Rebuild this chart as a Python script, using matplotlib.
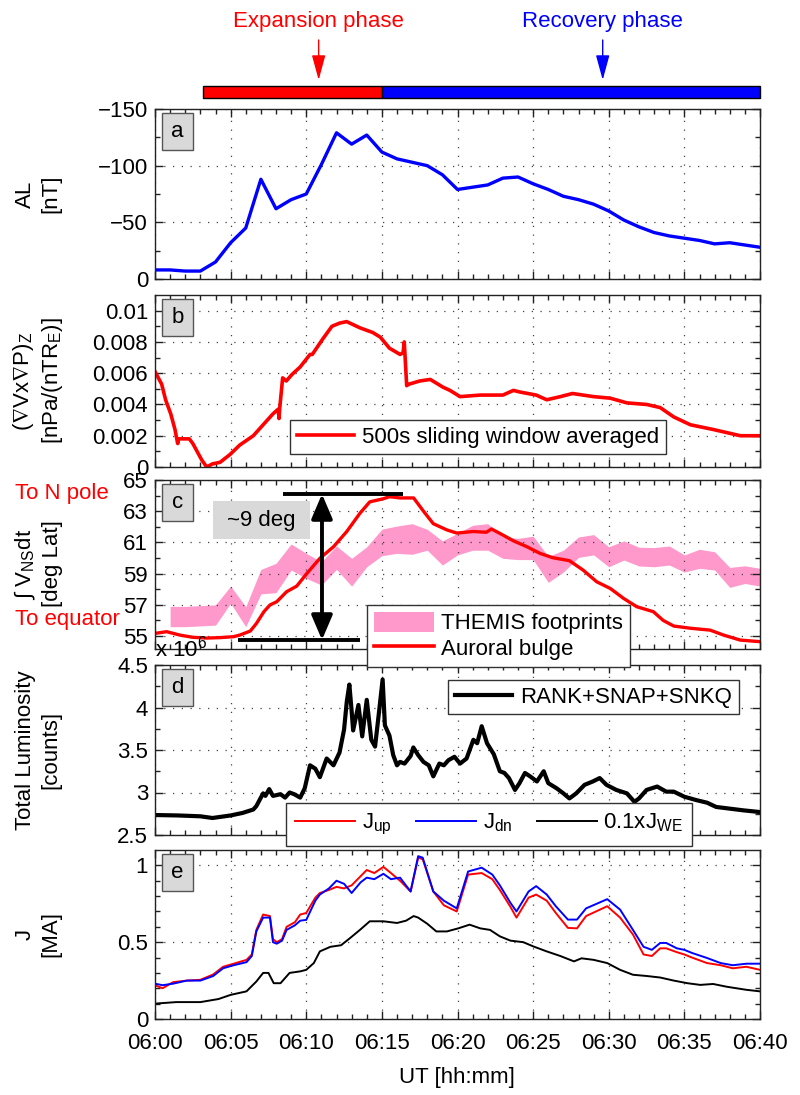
import matplotlib
matplotlib.use('Agg')
import matplotlib.pyplot as plt
from matplotlib.patches import Rectangle, Patch
from matplotlib.lines import Line2D
from matplotlib.transforms import blended_transform_factory
import numpy as np

plt.rcParams['font.family'] = ['Liberation Sans', 'DejaVu Sans']
plt.rcParams['mathtext.fontset'] = 'custom'
plt.rcParams['mathtext.rm'] = 'Liberation Sans'
plt.rcParams['mathtext.it'] = 'Liberation Sans:italic'
plt.rcParams['mathtext.default'] = 'regular'
plt.rcParams['mathtext.fallback'] = 'stixsans'
FS = 16

# ---------------- data (time in minutes after 06:00 UT) ----------------
time_ticks = [0, 5, 10, 15, 20, 25, 30, 35, 40]
time_labels = ['06:00', '06:05', '06:10', '06:15', '06:20', '06:25', '06:30', '06:35', '06:40']

phase_names = ['Expansion phase', 'Recovery phase']
phase_start = [3.17, 15.0]
phase_end = [15.0, 40.0]
phase_marker_t = [10.82, 29.6]

# (a) AL index [nT]
t_al = list(range(0, 41))
al = [-8, -8, -7, -7, -15, -32, -45, -88, -62, -70, -75, -101, -129, -119, -127, -112,
      -106, -103, -100, -92, -79, -81, -83, -89, -90, -84, -79, -73, -70, -66, -60, -52,
      -46, -41, -38, -36, -34, -31, -32, -30, -28]

# (b) (curl V x grad P)_z, 500 s sliding-window averaged
t_b = [0.0, 0.44, 0.7, 1.04, 1.32, 1.5, 1.55, 2.27, 2.5, 3.09, 3.42, 3.8, 4.3, 4.96, 5.6,
       6.5, 7.15, 7.8, 8.15, 8.2, 8.24, 8.44, 8.68, 9.04, 9.6, 10.25, 10.4, 11.1, 11.7,
       12.2, 12.67, 13.55, 14.4, 14.9, 15.5, 16.2, 16.4, 16.48, 16.64, 16.8, 17.5, 18.2,
       19.05, 19.5, 20.17, 21.5, 23.0, 23.7, 24.1, 25.2, 25.9, 26.8, 27.6, 29.0, 30.1,
       31.2, 32.5, 33.4, 34.3, 35.4, 36.9, 38.7, 40.0]
curl_b = [0.0061, 0.0053, 0.0043, 0.0034, 0.0024, 0.0015, 0.0018, 0.0018, 0.0015, 0.00045,
          0.0, 0.0002, 0.0003, 0.0008, 0.0014, 0.0020, 0.0027, 0.0034, 0.0037, 0.0031,
          0.0037, 0.0057, 0.0055, 0.0059, 0.0064, 0.0072, 0.0072, 0.0082, 0.0090, 0.0092,
          0.0093, 0.0089, 0.0086, 0.0083, 0.0076, 0.0072, 0.0073, 0.0080, 0.0052, 0.0053,
          0.0055, 0.0056, 0.0051, 0.0049, 0.0045, 0.0046, 0.0046, 0.0049, 0.0048, 0.0046,
          0.0043, 0.0045, 0.0047, 0.0045, 0.0044, 0.0041, 0.0040, 0.0038, 0.0032, 0.0027,
          0.0024, 0.0020, 0.0020]

# (c) auroral bulge latitude and THEMIS footprints [deg Lat]
t_bulge = [0, 0.77, 1.65, 2.5, 3.4, 4.3, 5.2, 5.6, 6.3, 6.7, 7.2, 7.6, 8.05, 8.7, 9.37,
           10.03, 10.9, 11.8, 12.68, 13.55, 14.2, 15.1, 15.5, 16.2, 17.1, 17.75, 18.4,
           19.3, 19.95, 21.05, 21.9, 22.25, 22.8, 23.7, 24.6, 25.45, 26.3, 27.4, 28.3,
           29.2, 30.1, 31.0, 31.85, 32.95, 33.6, 34.3, 35.4, 36.7, 37.6, 38.7, 40.0]
bulge_lat = [55.17, 55.28, 55.06, 54.92, 54.87, 54.9, 54.96, 55.06, 55.32, 55.8, 56.56,
             56.99, 57.2, 57.84, 58.2, 59.0, 59.98, 60.72, 61.7, 62.87, 63.6, 63.8, 63.93,
             63.85, 63.85, 63.0, 62.2, 61.8, 61.6, 61.7, 61.65, 61.86, 61.58, 61.1, 60.72,
             60.3, 60.02, 59.83, 59.23, 58.48, 58.05, 57.4, 56.88, 56.56, 56.0, 55.64, 55.5,
             55.38, 55.06, 54.74, 54.64]
t_themis = list(range(1, 41))
themis_upper = [56.9, 56.9, 56.95, 57.0, 58.2, 56.88, 59.27, 59.66, 60.9, 60.3, 59.76, 60.77,
                59.98, 60.72, 61.85, 62.05, 62.2, 61.84, 61.1, 61.58, 62.1, 62.2, 61.36,
                61.26, 61.4, 60.1, 60.5, 61.35, 61.5, 60.72, 61.1, 60.69, 60.67, 60.77, 60.2,
                60.56, 60.4, 59.4, 59.5, 59.34]
themis_lower = [55.6, 55.6, 55.65, 55.7, 57.1, 55.6, 57.7, 57.78, 59.23, 58.7, 58.27, 59.27,
                58.2, 59.44, 60.15, 60.3, 60.24, 60.5, 59.55, 60.2, 60.5, 60.5, 59.98, 59.9,
                59.9, 58.44, 59.1, 60.04, 60.2, 59.44, 59.87, 59.49, 59.44, 59.55, 59.1,
                59.34, 59.23, 58.12, 58.37, 58.2]
bulge_low = 54.75
bulge_low_t = [5.5, 13.55]
bulge_high = 64.1
bulge_high_t = [8.46, 16.4]
span_t = 11.04

# (d) total luminosity [counts, x 1e6]
t_lum = [0, 1.5, 3.0, 3.8, 5.0, 5.8, 6.5, 6.7, 7.15, 7.3, 7.55, 7.8, 8.3, 8.6, 8.9, 9.2,
         9.6, 9.9, 10.25, 10.6, 10.9, 11.35, 11.8, 12.2, 12.5, 12.68, 12.85, 13.0, 13.1,
         13.45, 13.7, 14.0, 14.3, 14.55, 14.8, 15.05, 15.2, 15.5, 15.75, 16.0, 16.2, 16.5,
         16.9, 17.08, 17.4, 17.75, 18.1, 18.4, 18.8, 19.1, 19.4, 19.8, 20.17, 20.6, 21.05,
         21.3, 21.6, 21.95, 22.4, 22.8, 23.1, 23.4, 23.8, 24.1, 24.46, 24.8, 25.25, 25.7,
         26.0, 26.55, 27.0, 27.4, 27.85, 28.4, 28.95, 29.4, 29.85, 30.5, 31.2, 31.7, 32.0,
         32.5, 33.2, 33.8, 34.3, 35.0, 35.8, 36.5, 37.1, 38.0, 38.9, 40.0]
lum_1e6 = [2.735, 2.73, 2.72, 2.70, 2.73, 2.76, 2.80, 2.84, 2.99, 2.96, 3.04, 2.96, 2.98,
           2.94, 3.0, 2.98, 2.94, 3.05, 3.32, 3.28, 3.18, 3.40, 3.32, 3.47, 3.74, 4.07, 4.27,
           3.96, 3.73, 4.03, 3.66, 4.09, 3.62, 3.54, 3.93, 4.33, 3.79, 3.67, 3.44, 3.32,
           3.36, 3.34, 3.43, 3.53, 3.44, 3.36, 3.32, 3.19, 3.34, 3.32, 3.38, 3.42, 3.34,
           3.40, 3.62, 3.58, 3.78, 3.58, 3.45, 3.25, 3.23, 3.17, 3.03, 3.11, 3.23, 3.19,
           3.13, 3.25, 3.11, 3.05, 2.99, 2.93, 2.99, 3.09, 3.13, 3.17, 3.09, 3.03, 2.99,
           2.89, 2.93, 3.03, 3.07, 3.01, 3.01, 2.95, 2.91, 2.88, 2.83, 2.81, 2.79, 2.77]

# (e) currents [MA]
t_j = [0, 0.5, 1.2, 2.1, 3.0, 3.85, 4.5, 5.2, 6.05, 6.4, 6.7, 7.15, 7.6, 7.8, 8.05, 8.4,
       8.7, 9.25, 9.6, 10.0, 10.6, 10.9, 11.5, 12.0, 12.5, 13.0, 13.6, 14.0, 14.5, 15.1,
       15.6, 16.2, 16.9, 17.4, 17.7, 18.4, 19.1, 19.95, 20.7, 21.6, 22.3, 22.8, 23.5, 23.9,
       24.7, 25.2, 25.9, 26.5, 27.3, 27.9, 28.5, 29.9, 30.75, 31.6, 32.3, 32.85, 33.4,
       33.8, 34.5, 35.0, 35.5, 36.5, 37.4, 38.2, 39.1, 40.0]
j_up = [0.22, 0.20, 0.24, 0.25, 0.255, 0.29, 0.34, 0.36, 0.385, 0.42, 0.58, 0.68, 0.67,
        0.52, 0.50, 0.52, 0.60, 0.63, 0.68, 0.69, 0.79, 0.82, 0.84, 0.86, 0.85, 0.87, 0.93,
        0.97, 0.95, 0.99, 0.95, 0.90, 0.83, 1.05, 1.04, 0.83, 0.74, 0.70, 0.94, 0.95, 0.91,
        0.84, 0.73, 0.66, 0.79, 0.81, 0.77, 0.69, 0.593, 0.59, 0.67, 0.734, 0.66, 0.55,
        0.42, 0.41, 0.46, 0.46, 0.435, 0.42, 0.40, 0.364, 0.35, 0.33, 0.34, 0.32]
j_dn = [0.23, 0.22, 0.23, 0.25, 0.25, 0.28, 0.33, 0.35, 0.37, 0.41, 0.57, 0.66, 0.66, 0.50,
        0.49, 0.51, 0.58, 0.61, 0.64, 0.645, 0.77, 0.81, 0.85, 0.90, 0.88, 0.82, 0.89, 0.92,
        0.91, 0.945, 0.91, 0.92, 0.83, 1.06, 1.05, 0.83, 0.77, 0.72, 0.96, 0.985, 0.94,
        0.87, 0.756, 0.70, 0.83, 0.865, 0.81, 0.734, 0.647, 0.647, 0.72, 0.78, 0.712, 0.58,
        0.47, 0.45, 0.495, 0.495, 0.46, 0.45, 0.43, 0.397, 0.364, 0.35, 0.36, 0.36]
t_we = [0, 1.4, 3.0, 4.2, 5.0, 6.05, 6.7, 7.15, 7.5, 7.85, 8.3, 8.9, 9.6, 10.0, 10.5, 10.9,
        11.6, 12.3, 12.9, 13.55, 14.2, 15.1, 16.0, 16.6, 17.1, 17.4, 18.0, 18.6, 19.3, 20.05,
        20.8, 21.5, 22.15, 22.8, 23.5, 24.35, 25.0, 25.9, 26.8, 27.7, 28.2, 29.0, 29.9,
        30.75, 31.6, 32.5, 33.4, 34.3, 35.2, 36.05, 36.9, 37.8, 39.1, 40.0]
j_we_tenth = [0.10, 0.11, 0.11, 0.13, 0.157, 0.18, 0.244, 0.30, 0.30, 0.233, 0.233, 0.30,
              0.31, 0.32, 0.364, 0.44, 0.47, 0.48, 0.527, 0.58, 0.636, 0.636, 0.625, 0.64,
              0.67, 0.66, 0.62, 0.57, 0.57, 0.59, 0.614, 0.59, 0.58, 0.538, 0.51, 0.50,
              0.473, 0.44, 0.41, 0.375, 0.395, 0.385, 0.364, 0.32, 0.288, 0.28, 0.27, 0.25,
              0.233, 0.222, 0.228, 0.21, 0.19, 0.18]

# ---------------- figure ----------------
W, H = 800, 1095
fig = plt.figure(figsize=(W / 100, H / 100), dpi=100)
X0, X1 = 155, 760


def fx(px):
    return px / W


def fy(py):
    return 1 - py / H


def make_ax(top, bottom):
    return fig.add_axes([fx(X0), fy(bottom), (X1 - X0) / W, (bottom - top) / H])


def style(ax, ylim, yticks, ylabels, yminor, show_x=False):
    ax.set_xlim(0, 40)
    ax.set_ylim(*ylim)
    ax.set_xticks(time_ticks)
    ax.set_xticks(np.arange(0, 41, 1), minor=True)
    ax.set_yticks(yticks)
    ax.set_yticklabels(ylabels)
    ax.set_yticks(yminor, minor=True)
    ax.tick_params(which='both', direction='in', top=True, right=True, labelsize=FS,
                   width=1, color='#222222')
    ax.tick_params(which='major', length=6)
    ax.tick_params(which='minor', length=3.5)
    ax.tick_params(axis='y', which='major', pad=5)
    ax.tick_params(axis='x', which='major', pad=10)
    if show_x:
        ax.set_xticklabels(time_labels)
    else:
        ax.set_xticklabels([])
    ax.grid(True, which='major', linestyle=(0, (1, 6)), color='#444444', lw=0.9)
    for s in ax.spines.values():
        s.set_linewidth(1.0)
        s.set_color('#222222')


def panel_label(ax, letter, hpx):
    ax.add_patch(Rectangle((7 / 605, 1 - 41 / hpx), 31 / 605, 37 / hpx, transform=ax.transAxes,
                           fc='#d9d9d9', ec='#555555', lw=1, zorder=6))
    ax.text(22.5 / 605, 1 - 22.5 / hpx, letter, transform=ax.transAxes, ha='center',
            va='center', fontsize=FS, zorder=7)


def legend_frame(leg):
    fr = leg.get_frame()
    fr.set_linewidth(1.0)
    fr.set_edgecolor('#333333')
    fr.set_alpha(1)


# phase bar
ax_bar = fig.add_axes([fx(X0), fy(98), (X1 - X0) / W, 12 / H])
ax_bar.set_xlim(0, 40)
ax_bar.set_ylim(0, 1)
ax_bar.axis('off')
bar_colors = ['#ff0000', '#0000ff']
for s0, s1, c in zip(phase_start, phase_end, bar_colors):
    ax_bar.barh(0.5, s1 - s0, left=s0, height=1, color=c, edgecolor='k', lw=1.0, clip_on=False)
btrans = blended_transform_factory(ax_bar.transData, fig.transFigure)
for name, tm, c in zip(phase_names, phase_marker_t, bar_colors):
    ax_bar.text(tm, fy(22), name, transform=btrans, ha='center', va='center', color=c,
                fontsize=FS, clip_on=False)
    ax_bar.annotate('', xy=(tm, fy(80)), xycoords=btrans, xytext=(tm, fy(40)),
                    textcoords=btrans,
                    arrowprops=dict(arrowstyle='-|>,head_length=1.1,head_width=0.3',
                                    color=c, lw=1.0, mutation_scale=14,
                                    shrinkA=0, shrinkB=0), annotation_clip=False)

# (a)
ax_a = make_ax(109, 279)
ax_a.plot(t_al, al, color='#0000ff', lw=2.4, solid_joinstyle='round')
style(ax_a, (0, -150), [0, -50, -100, -150], ['0', '\u221250', '\u2212100', '\u2212150'],
      [-25, -75, -125])
panel_label(ax_a, 'a', 170)

# (b)
ax_b = make_ax(295, 467)
ln_b, = ax_b.plot(t_b, curl_b, color='#ff0000', lw=2.6, solid_joinstyle='round')
style(ax_b, (0, 0.011), [0, 0.002, 0.004, 0.006, 0.008, 0.01],
      ['0', '0.002', '0.004', '0.006', '0.008', '0.01'], np.arange(0.001, 0.011, 0.002))
panel_label(ax_b, 'b', 172)
leg_b = ax_b.legend([ln_b], ['500s sliding window averaged'], loc='upper left',
                    bbox_to_anchor=(fx(290), fy(420)), bbox_transform=fig.transFigure,
                    borderaxespad=0, fancybox=False, fontsize=FS, handlelength=2.6,
                    handletextpad=0.35, borderpad=0.3)
legend_frame(leg_b)

# (c)
ax_c = make_ax(480, 649)
ax_c.fill_between(t_themis, themis_lower, themis_upper, color='#ff99cc', lw=0)
ax_c.plot(t_bulge, bulge_lat, color='#ff0000', lw=2.4, solid_joinstyle='round')
style(ax_c, (54.17, 65), [55, 57, 59, 61, 63, 65], ['55', '57', '59', '61', '63', '65'],
      [56, 58, 60, 62, 64])
panel_label(ax_c, 'c', 169)
ax_c.plot(bulge_low_t, [bulge_low, bulge_low], color='k', lw=2.8, zorder=5,
          solid_capstyle='butt')
ax_c.plot(bulge_high_t, [bulge_high, bulge_high], color='k', lw=2.8, zorder=5,
          solid_capstyle='butt')
ax_c.annotate('', xy=(span_t, bulge_low), xytext=(span_t, bulge_high),
              arrowprops=dict(arrowstyle='<|-|>,head_length=0.75,head_width=0.32', color='k',
                              lw=2.8, mutation_scale=20, shrinkA=0, shrinkB=0), zorder=6)
ax_c.add_patch(Rectangle((3.83, 61.2), 6.42, 2.45, fc='#d9d9d9', ec='none', zorder=4))
ax_c.text(7.04, 62.43, '~9 deg', ha='center', va='center', fontsize=FS, zorder=5)

# (d)
ax_d = make_ax(665, 835)
ln_d, = ax_d.plot(t_lum, lum_1e6, color='k', lw=3.0, solid_joinstyle='round')
style(ax_d, (2.5, 4.5), [2.5, 3, 3.5, 4, 4.5], ['2.5', '3', '3.5', '4', '4.5'],
      [2.75, 3.25, 3.75, 4.25])
panel_label(ax_d, 'd', 170)
leg_d = ax_d.legend([ln_d], ['RANK+SNAP+SNKQ'], loc='upper left',
                    bbox_to_anchor=(fx(448), fy(680)), bbox_transform=fig.transFigure,
                    borderaxespad=0, fancybox=False, fontsize=FS, handlelength=2.6,
                    handletextpad=0.35, borderpad=0.3)
legend_frame(leg_d)

# (e)
ax_e = make_ax(850, 1019)
ln_up, = ax_e.plot(t_j, j_up, color='#ff0000', lw=1.4)
ln_dn, = ax_e.plot(t_j, j_dn, color='#0000ff', lw=1.4)
ln_we, = ax_e.plot(t_we, j_we_tenth, color='k', lw=1.4)
style(ax_e, (0, 1.1), [0, 0.5, 1], ['0', '0.5', '1'],
      [0.1, 0.2, 0.3, 0.4, 0.6, 0.7, 0.8, 0.9], show_x=True)
panel_label(ax_e, 'e', 169)

# figure-level legends (drawn over neighbouring panels)
leg_c = fig.legend([Patch(fc='#ff99cc', ec='none'),
                    Line2D([], [], color='#ff0000', lw=2.6)],
                   ['THEMIS footprints', 'Auroral bulge'], loc='upper left',
                   bbox_to_anchor=(fx(367), fy(605)), bbox_transform=fig.transFigure,
                   borderaxespad=0, fancybox=False, fontsize=FS, handlelength=2.7,
                   handleheight=1.0, handletextpad=0.35, borderpad=0.3, labelspacing=0.15)
legend_frame(leg_c)
leg_e = fig.legend([ln_up, ln_dn, ln_we], ['J$_{up}$', 'J$_{dn}$', '0.1xJ$_{WE}$'],
                   loc='upper left', ncol=3, bbox_to_anchor=(fx(286), fy(803)),
                   bbox_transform=fig.transFigure, borderaxespad=0, fancybox=False,
                   fontsize=FS, handlelength=2.7, handletextpad=0.3, borderpad=0.4,
                   columnspacing=1.1)
legend_frame(leg_e)

# y labels
ylabels = [
    (194, 'AL\n[nT]'),
    (381, r'($\nabla$Vx$\nabla$P)$_Z$' + '\n' + r'[nPa/(nTR$_E$)]'),
    (564, '\u222b V$_{NS}$dt\n[deg Lat]'),
    (750, 'Total Luminosity\n[counts]'),
    (934, 'J\n[MA]'),
]
for yc, txt in ylabels:
    fig.text(fx(38), fy(yc), txt, rotation=90, ha='center', va='center', fontsize=FS,
             multialignment='center', linespacing=1.25)

fig.text(fx(15), fy(493), 'To N pole', color='#ff0000', ha='left', va='center', fontsize=FS)
fig.text(fx(15), fy(620), 'To equator', color='#ff0000', ha='left', va='center', fontsize=FS)
fig.text(fx(155), fy(657), 'x 10$^6$', ha='left', va='baseline', fontsize=FS)
fig.text(fx(457), fy(1077), 'UT [hh:mm]', ha='center', va='center', fontsize=FS)

fig.savefig('out.png', dpi=100)
